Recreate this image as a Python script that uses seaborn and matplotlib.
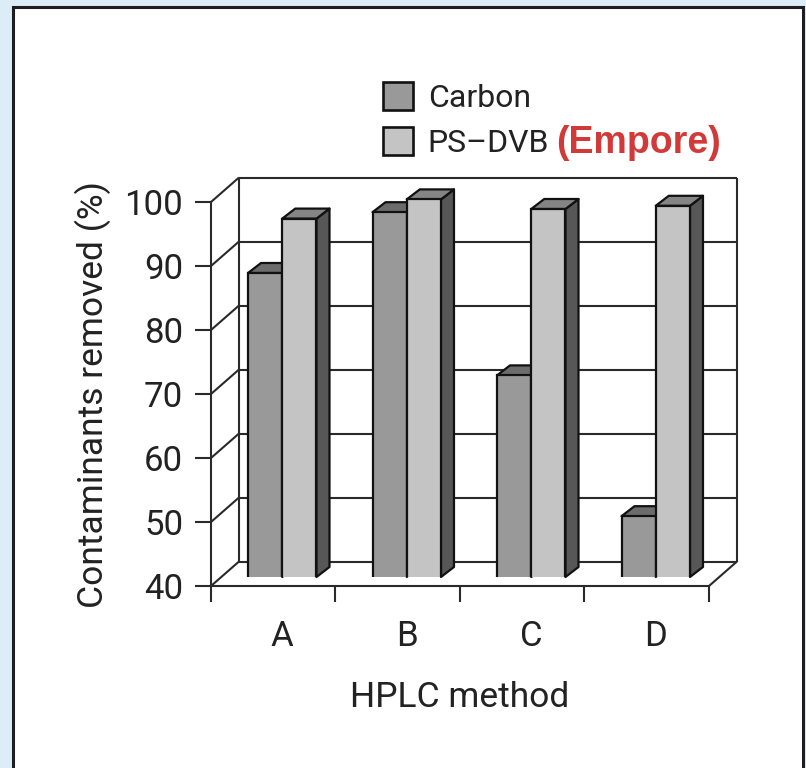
import numpy as np
import pandas as pd
import matplotlib
matplotlib.use("Agg")
import matplotlib.pyplot as plt
import seaborn as sns
from matplotlib.patches import Polygon, Rectangle, Patch
from matplotlib.lines import Line2D

# ---------------- data ----------------
methods = ["A", "B", "C", "D"]
materials = ["Carbon", "PS\u2013DVB"]
carbon_removed = [87.5, 97, 71.5, 49.5]
psdvb_removed = [96, 99, 97.5, 98]
y_ticks = [40, 50, 60, 70, 80, 90, 100]
y_label = "Contaminants removed (%)"
x_label = "HPLC method"
legend_extra = "(Empore)"

# ---------------- style ----------------
W, H, DPI = 806, 768, 100
sns.set_theme(style="white")
plt.rcParams["font.family"] = ["Roboto", "DejaVu Sans"]

FRONT = {"Carbon": "#999999", "PS\u2013DVB": "#c4c4c4"}
TOP = {"Carbon": "#6c6c6c", "PS\u2013DVB": "#858585"}
SIDE = "#575757"
EDGE = "#111111"
LINE = "#2a2a2a"
FS = 25

fig = plt.figure(figsize=(W / DPI, H / DPI), dpi=DPI)
fig.patch.set_facecolor("#dcedf7")
fig.patches.append(Rectangle((13 / W, -0.02), (803 - 13) / W, (H - 7) / H + 0.02,
                             transform=fig.transFigure, facecolor="white",
                             edgecolor="#1e1e1e", lw=2.2, zorder=0))

# front plane (pixels)
FX0, FX1 = 211, 709
FY40, FY100 = 586, 202
PXX = (FX1 - FX0) / 4.0        # px per category
PXY = (FY40 - FY100) / 60.0    # px per %

ax = fig.add_axes([FX0 / W, (H - FY40) / H, (FX1 - FX0) / W, (FY40 - FY100) / H])
ax.set_xlim(-0.5, 3.5)
ax.set_ylim(40, 100)
ax.patch.set_alpha(0)
ax.set_zorder(1)

# depth of the back wall
DX = 28 / PXX
DY = 24.5 / PXY
lw_grid = 1.5
kw = dict(color=LINE, lw=lw_grid, clip_on=False, solid_capstyle="butt")
x0, x1 = -0.5, 3.5
for yv in y_ticks:
    ax.add_line(Line2D([x0 + DX, x1 + DX], [yv + DY, yv + DY], **kw))
    ax.add_line(Line2D([x0, x0 + DX], [yv, yv + DY], **kw))
ax.add_line(Line2D([x0 + DX, x0 + DX], [40 + DY, 100 + DY], **kw))
ax.add_line(Line2D([x1 + DX, x1 + DX], [40 + DY, 100 + DY], **kw))
ax.add_line(Line2D([x1, x1 + DX], [40, 40 + DY], **kw))

for s in ["top", "right"]:
    ax.spines[s].set_visible(False)
for s in ["left", "bottom"]:
    ax.spines[s].set_color(LINE)
    ax.spines[s].set_linewidth(lw_grid)
ax.set_yticks(y_ticks)
ax.set_yticklabels([str(v) for v in y_ticks])
ax.set_xticks([-0.5, 0.5, 1.5, 2.5, 3.5])
ax.set_xticklabels([])
ax.tick_params(axis="both", direction="out", length=11.5, width=lw_grid,
               color=LINE, labelsize=FS, labelcolor="#222222")
ax.tick_params(axis="y", pad=8.5, left=True)
ax.tick_params(axis="x", bottom=True)
ax.set_ylabel(y_label, fontsize=FS + 0.5, color="#222222", va="center")
ax.yaxis.set_label_coords(-0.238, 0.5)
ax.set_xlabel(x_label, fontsize=FS + 0.5, color="#222222", va="top")
ax.xaxis.set_label_coords(0.5, -(681 - FY40) / (FY40 - FY100))

# bars plane (shifted into depth)
BOX, BOY = 9, 9
axb = fig.add_axes([(FX0 + BOX) / W, (H - FY40 + BOY) / H, (FX1 - FX0) / W, (FY40 - FY100) / H])
axb.set_zorder(2)
axb.patch.set_alpha(0)

df = pd.DataFrame({
    "method": methods * 2,
    "material": [materials[0]] * len(methods) + [materials[1]] * len(methods),
    "value": carbon_removed + psdvb_removed,
})
sns.barplot(data=df, x="method", y="value", hue="material", order=methods,
            hue_order=materials, palette=[FRONT[m] for m in materials],
            width=0.55, saturation=1, edgecolor=EDGE, linewidth=1.6,
            legend=False, ax=axb)
axb.set_xlim(-0.5, 3.5)
axb.set_ylim(40, 100)
for s in axb.spines.values():
    s.set_visible(False)
axb.set_yticks([])
axb.set_xlabel("")
axb.set_ylabel("")
axb.tick_params(axis="x", length=0, pad=31, labelsize=FS, labelcolor="#222222")

BDX = 13 / PXX
BDY = 10 / PXY
bars = [p for p in axb.patches if isinstance(p, Rectangle)]
n = len(methods)
info = []
for i, p in enumerate(bars):
    mat = materials[i // n]
    info.append((p.get_x(), p, mat))
info.sort(key=lambda t: t[0])
for k, (bx, p, mat) in enumerate(info):
    w = p.get_width()
    top = p.get_height()
    z = 3 + k * 0.1
    p.set_zorder(z + 0.05)
    side = Polygon([(bx + w, 40), (bx + w, top), (bx + w + BDX, top + BDY), (bx + w + BDX, 40 + BDY)],
                   closed=True, facecolor=SIDE, edgecolor=EDGE, lw=1.6, clip_on=False,
                   zorder=z, joinstyle="round")
    tp = Polygon([(bx, top), (bx + w, top), (bx + w + BDX, top + BDY), (bx + BDX, top + BDY)],
                 closed=True, facecolor=TOP[mat], edgecolor=EDGE, lw=1.6, clip_on=False,
                 zorder=z, joinstyle="round")
    axb.add_patch(side)
    axb.add_patch(tp)

# legend
handles = [Patch(facecolor=FRONT[m], edgecolor=EDGE, lw=1.9) for m in materials]
leg = ax.legend(handles, materials, loc="upper left",
                bbox_to_anchor=(383 / W, 1 - 82 / H), bbox_transform=fig.transFigure,
                frameon=False, fontsize=23, handlelength=0.95, handleheight=0.95,
                handletextpad=0.45, labelspacing=0.45, borderpad=0, borderaxespad=0)
for t in leg.get_texts():
    t.set_color("#222222")

fig.canvas.draw()
tb = leg.get_texts()[1].get_window_extent(fig.canvas.get_renderer())
fig.text((tb.x1 + 7) / W, (tb.y0 + tb.y1) / 2 / H, legend_extra,
         fontsize=27, fontweight="bold", color="#d23a3a",
         family=["Liberation Sans", "DejaVu Sans"], ha="left", va="center")

fig.savefig("out.png", dpi=DPI, facecolor=fig.get_facecolor())
